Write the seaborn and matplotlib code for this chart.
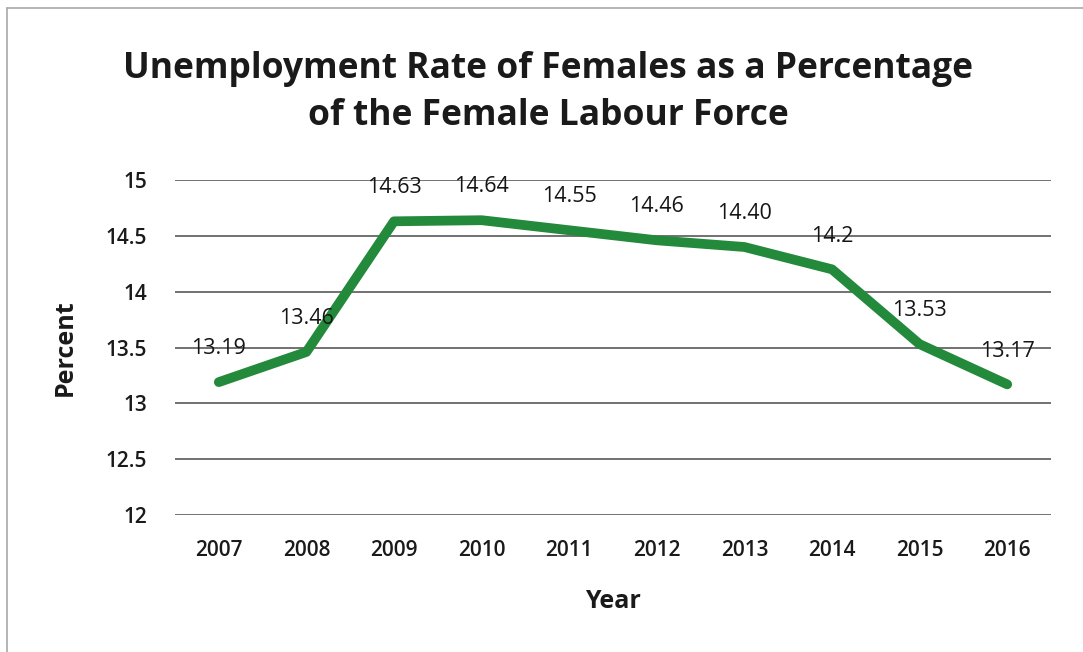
import numpy as np
import pandas as pd
import seaborn as sns
import matplotlib.pyplot as plt
from matplotlib.lines import Line2D

# values
years = ["2007", "2008", "2009", "2010", "2011", "2012", "2013", "2014", "2015", "2016"]
rates = [13.19, 13.46, 14.63, 14.64, 14.55, 14.46, 14.40, 14.2, 13.53, 13.17]
rate_labels = ["13.19", "13.46", "14.63", "14.64", "14.55", "14.46", "14.40", "14.2", "13.53", "13.17"]
y_ticks = [12, 12.5, 13, 13.5, 14, 14.5, 15]

sns.set_style("white")
plt.rcParams['font.family'] = ['Open Sans', 'DejaVu Sans']

df = pd.DataFrame({"Year": years, "Percent": rates})

fig = plt.figure(figsize=(10.83, 6.52), dpi=100)
ax = fig.add_axes([175 / 1083, 1 - 515 / 652, 876 / 1083, 335 / 652])

ax.set_ylim(12, 15)
ax.set_yticks(y_ticks)
ax.set_yticklabels([f"{t:g}" for t in y_ticks])
for t in y_ticks:
    ax.axhline(t, color="#4a4a4a", lw=1.1, zorder=1)

sns.lineplot(data=df, x="Year", y="Percent", ax=ax, color="#23893b",
             lw=7, solid_capstyle="round", solid_joinstyle="round",
             sort=False, zorder=3)
ax.set_xlim(-0.5, len(years) - 0.5)

for i, (v, lab) in enumerate(zip(rates, rate_labels)):
    ax.annotate(lab, (i, v), xytext=(0, 24), textcoords="offset points",
                ha="center", va="center", fontsize=15.5, color="#151515", zorder=4)

for s in ax.spines.values():
    s.set_visible(False)
ax.tick_params(axis="both", length=0, labelsize=15, colors="#1a1a1a")
ax.tick_params(axis="y", pad=20)
ax.tick_params(axis="x", pad=18)
for lbl in ax.get_xticklabels() + ax.get_yticklabels():
    lbl.set_fontweight("semibold")

ax.set_xlabel("Year", fontsize=18, fontweight="bold", color="#1a1a1a", labelpad=20)
ax.set_ylabel("Percent", fontsize=18, fontweight="bold", color="#1a1a1a", labelpad=20)

fig.text(548 / 1083, 1 - 69 / 652, "Unemployment Rate of Females as a Percentage",
         ha="center", va="center", fontsize=25.5, fontweight="bold", color="#1a1a1a")
fig.text(548 / 1083, 1 - 116 / 652, "of the Female Labour Force",
         ha="center", va="center", fontsize=25.5, fontweight="bold", color="#1a1a1a")

# scanned frame edges
fig.add_artist(Line2D([7 / 1083, 1], [1 - 8 / 652, 1 - 8 / 652], color="#a8a8a8", lw=1.2))
fig.add_artist(Line2D([7 / 1083, 7 / 1083], [0, 1 - 8 / 652], color="#a8a8a8", lw=1.2))

fig.savefig("out.png", dpi=100, facecolor="white")
